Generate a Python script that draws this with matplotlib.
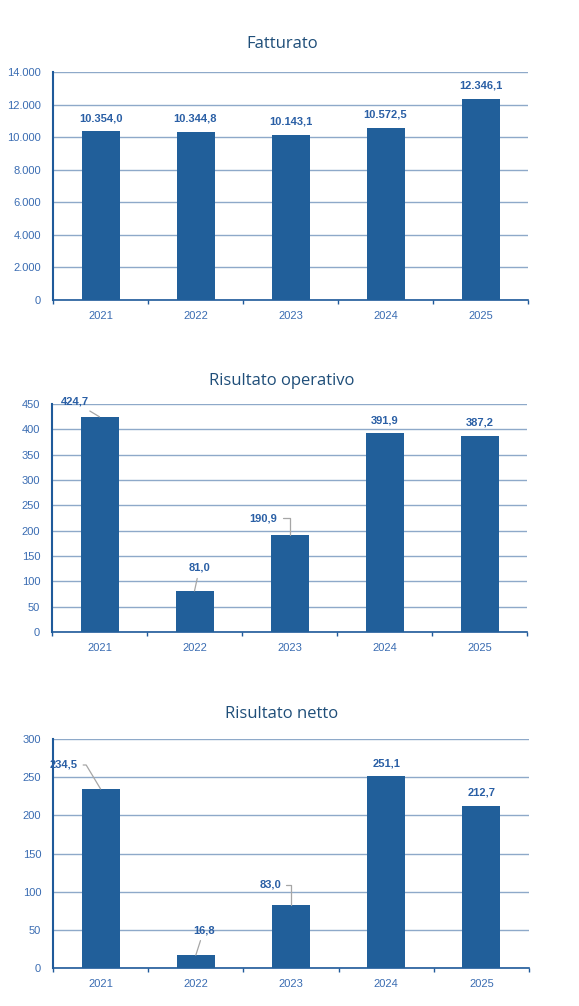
import matplotlib
matplotlib.use("Agg")
import matplotlib.pyplot as plt
import numpy as np

# chart data
years = ["2021", "2022", "2023", "2024", "2025"]
fatturato = [10354.0, 10344.8, 10143.1, 10572.5, 12346.1]
risultato_operativo = [424.7, 81.0, 190.9, 391.9, 387.2]
risultato_netto = [234.5, 16.8, 83.0, 251.1, 212.7]

BAR = "#215F9A"
GRID = "#8EA9C9"
SPINE = "#1F5A9A"
TICK = "#3A6CB2"
LABEL = "#2A5FA5"
TITLE = "#1F4E79"
LEADER = "#A6A6A6"

W, H = 579, 1006
PX = 0.72  # points per pixel at dpi 100


def px_axes(fig, left, top, right, bottom):
    return fig.add_axes([left / W, 1 - bottom / H, (right - left) / W, (bottom - top) / H])


def it_int(v):
    return f"{v:,.0f}".replace(",", ".")


def it_dec(v):
    return f"{v:,.1f}".replace(",", "X").replace(".", ",").replace("X", ".")


# leaders: index -> (dx px, dy px, connection style)
def draw_panel(ax, values, ymax, ystep, leaders):
    x = np.arange(len(years))
    ax.bar(x, values, width=0.4, color=BAR, zorder=3)
    ax.set_xlim(-0.5, len(years) - 0.5)
    ax.set_ylim(0, ymax)
    ax.set_yticks(np.arange(0, ymax + 1, ystep))
    ax.set_yticklabels([it_int(v) for v in np.arange(0, ymax + 1, ystep)])
    ax.set_xticks(x)
    ax.set_xticklabels(years)
    ax.set_xticks(np.arange(-0.5, len(years), 1.0), minor=True)
    ax.tick_params(axis="x", which="major", length=0, pad=8, labelsize=8, labelcolor=TICK)
    ax.tick_params(axis="x", which="minor", length=3, width=1.0, color=SPINE, direction="out")
    ax.tick_params(axis="y", length=0, pad=8.5, labelsize=8, labelcolor=TICK)
    for t in ax.get_xticklabels() + ax.get_yticklabels():
        t.set_fontfamily("Liberation Sans")
    ax.grid(axis="y", color=GRID, linewidth=1.0, zorder=0)
    ax.set_axisbelow(True)
    for s in ["top", "right"]:
        ax.spines[s].set_visible(False)
    ax.spines["left"].set_color(SPINE)
    ax.spines["left"].set_linewidth(1.5)
    ax.spines["bottom"].set_color(SPINE)
    ax.spines["bottom"].set_linewidth(1.2)
    for i, v in enumerate(values):
        if i in leaders:
            dx, dy, cs = leaders[i]
            ax.annotate(it_dec(v), xy=(i, v), xytext=(dx * PX, dy * PX),
                        textcoords="offset points", ha="center", va="center",
                        fontsize=8, fontweight="bold", color=LABEL,
                        fontfamily="Liberation Sans",
                        arrowprops=dict(arrowstyle="-", color=LEADER, lw=0.9,
                                        shrinkA=2, shrinkB=0, connectionstyle=cs))
        else:
            ax.annotate(it_dec(v), xy=(i, v), xytext=(0, 13 * PX),
                        textcoords="offset points", ha="center", va="center",
                        fontsize=8, fontweight="bold", color=LABEL,
                        fontfamily="Liberation Sans")


fig = plt.figure(figsize=(W / 100, H / 100), dpi=100)

ax1 = px_axes(fig, 53, 72, 528, 300)
draw_panel(ax1, fatturato, 14000, 2000, {})

ax2 = px_axes(fig, 52, 404, 527, 632)
draw_panel(ax2, risultato_operativo, 450, 50, {
    0: (-25, 15, "arc3"),
    1: (5, 23, "arc3"),
    2: (-26, 17, "angle,angleA=0,angleB=90,rad=0"),
})

ax3 = px_axes(fig, 53, 739, 529, 968)
draw_panel(ax3, risultato_netto, 300, 50, {
    0: (-37, 24, "angle,angleA=0,angleB=121,rad=0"),
    1: (8, 25, "arc3"),
    2: (-21, 20, "angle,angleA=0,angleB=90,rad=0"),
})

titles = [("Fatturato", 44), ("Risultato operativo", 381), ("Risultato netto", 714)]
for txt, yp in titles:
    fig.text(282 / W, 1 - yp / H, txt, ha="center", va="center",
             fontsize=12, color=TITLE, fontfamily="Open Sans")

fig.savefig("out.png", dpi=100)
